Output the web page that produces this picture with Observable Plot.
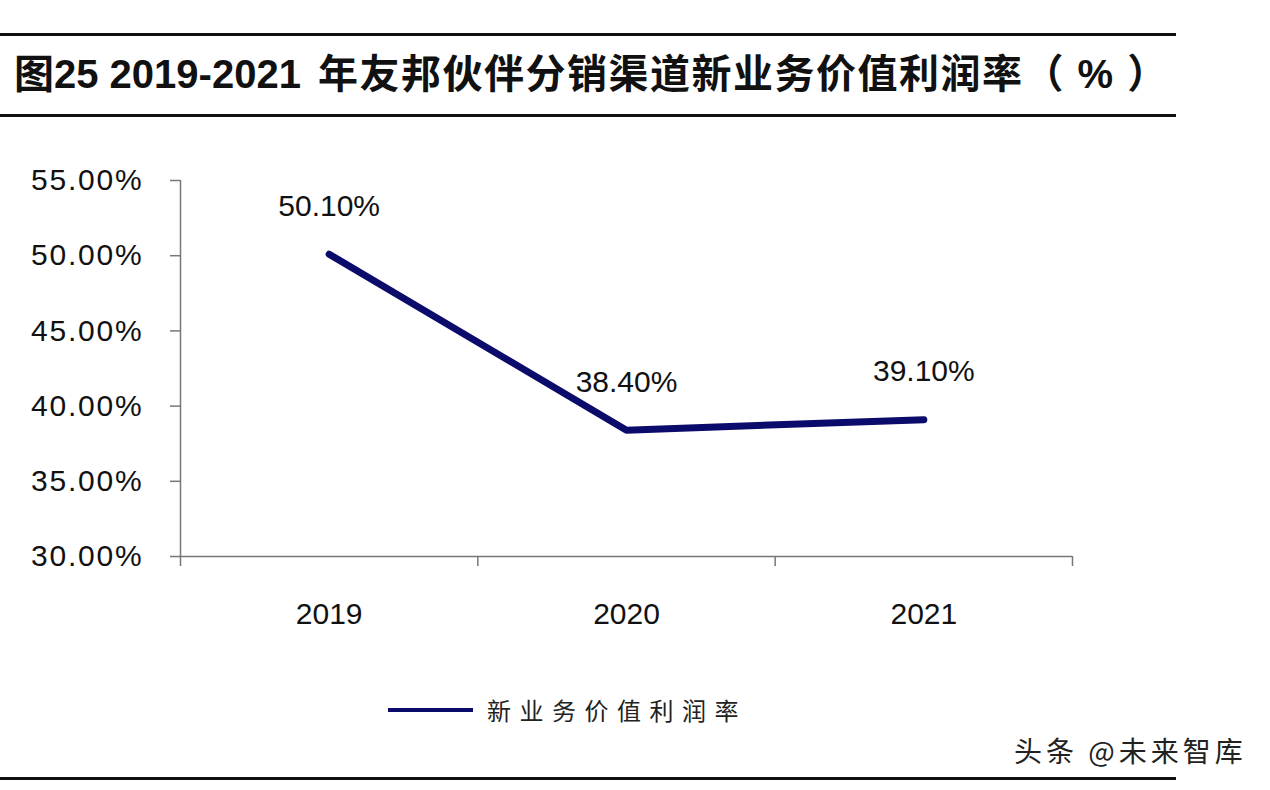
<!DOCTYPE html>
<html>
<head>
<meta charset="utf-8">
<script src="https://cdn.jsdelivr.net/npm/d3@7"></script>
<script src="https://cdn.jsdelivr.net/npm/@observablehq/plot@0.6"></script>
<style>
  html, body { margin: 0; padding: 0; background: #fff; }
  #page { position: relative; width: 1270px; height: 790px; overflow: hidden; background: #fff;
          font-family: "Liberation Sans", "Noto Sans CJK SC", sans-serif; }
  .rule { position: absolute; left: 0; width: 1176px; height: 3px; background: #111; }
  #title { position: absolute; left: 14px; top: 49px; font-size: 40px; font-weight: bold; color: #111;
           line-height: 50px; white-space: nowrap; font-family: "Liberation Sans", "Noto Sans CJK SC", sans-serif; }
  #title .cjk { letter-spacing: 1.5px; margin-left: 17px; }
  #chart { position: absolute; left: 0; top: 130px; }
  #legend { position: absolute; left: 388px; top: 692px; display: flex; align-items: center; }
  #legend .swatch { width: 85px; height: 4px; background: #0b0b6b; }
  #legend .label { margin-left: 14px; font-size: 24px; letter-spacing: 8.5px; color: #222;
                   font-family: "Noto Sans CJK SC", sans-serif; line-height: 36px; }
  #credit { position: absolute; left: 1014px; top: 730px; font-size: 28px; color: #222; letter-spacing: 4px;
            font-family: "Noto Sans CJK SC", sans-serif; white-space: nowrap; }
</style>
</head>
<body>
<div id="page">
  <div class="rule" style="top:33px"></div>
  <div id="title"><span class="lead"></span><span class="cjk"></span></div>
  <div class="rule" style="top:114px"></div>
  <div id="chart"></div>
  <div id="legend"><div class="swatch"></div><div class="label"></div></div>
  <div id="credit"></div>
  <div class="rule" style="top:777px"></div>
</div>
<script>
const titleLead = "图25 2019-2021";
const titleRest = "年友邦伙伴分销渠道新业务价值利润率（ % ）";
const seriesName = "新业务价值利润率";
const creditText = "头条 @未来智库";
const years = ["2019", "2020", "2021"];
const values = [50.10, 38.40, 39.10];
const yTicks = [30, 35, 40, 45, 50, 55];

document.querySelector("#title .lead").textContent = titleLead;
document.querySelector("#title .cjk").textContent = titleRest;
document.querySelector("#legend .label").textContent = seriesName;
document.getElementById("credit").textContent = creditText;

const rows = years.map((year, i) => ({i, year, value: values[i]}));
const bounds = d3.range(years.length + 1).map(k => k - 0.5);
const navy = "#0b0b6b";
const axisColor = "#777";

const chart = Plot.plot({
  width: 1270,
  height: 540,
  marginLeft: 180,
  marginRight: 198,
  marginTop: 50,
  marginBottom: 114,
  style: {fontFamily: "'Liberation Sans', Arial, sans-serif", background: "transparent", color: "#111"},
  x: {domain: [-0.5, years.length - 0.5]},
  y: {domain: [30, 55]},
  marks: [
    Plot.ruleX([bounds[0]], {y1: 30, y2: 55, stroke: axisColor, strokeWidth: 1.5}),
    Plot.ruleY([30], {x1: bounds[0], x2: bounds[bounds.length - 1], stroke: axisColor, strokeWidth: 1.5}),
    Plot.axisY(yTicks, {tickSize: 10, tickPadding: 27, stroke: axisColor, strokeWidth: 1.5,
      tickFormat: d => d.toFixed(2) + "%", fontSize: 30, fill: "#111", label: null}),
    Plot.axisX(bounds, {tickSize: 10, stroke: axisColor, strokeWidth: 1.5, tickFormat: () => "", label: null}),
    Plot.axisX(rows.map(d => d.i), {tickSize: 0, tickPadding: 46, tickFormat: i => years[i],
      fontSize: 30, fill: "#111", label: null}),
    Plot.line(rows, {x: "i", y: "value", stroke: navy, strokeWidth: 7, strokeLinecap: "round", strokeLinejoin: "miter"}),
    Plot.text(rows, {x: "i", y: "value", text: d => d.value.toFixed(2) + "%", dy: -48,
      fontSize: 30, fill: "#111", ariaLabel: "value-labels"})
  ]
});
d3.select(chart).selectAll("g[aria-label='y-axis tick label'] text").attr("letter-spacing", 1.8);
d3.select(chart).selectAll("g[aria-label='value-labels'] text").attr("letter-spacing", 1.2);
document.getElementById("chart").appendChild(chart);
</script>
</body>
</html>
